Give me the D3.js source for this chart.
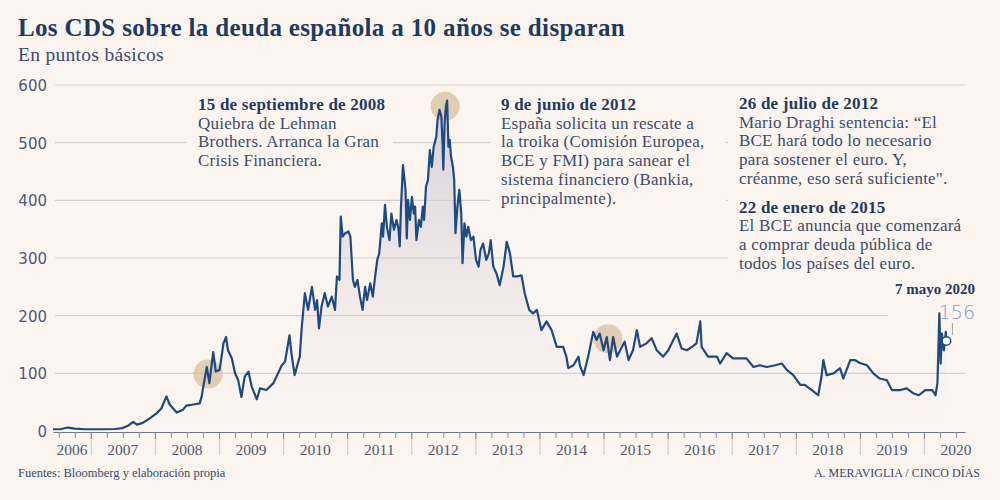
<!DOCTYPE html>
<html><head><meta charset="utf-8">
<script src="https://cdn.jsdelivr.net/npm/d3@7"></script>
<style>html,body{margin:0;padding:0;background:#fcf5ef;}svg{display:block}</style>
</head><body>
<svg id="chart" width="1000" height="500"></svg>
<script>
// ---- data (decimal year, CDS in basis points) ----
const dates = [
2006.41,2006.52,2006.64,2006.75,2006.91,2007.14,2007.38,2007.49,2007.58,2007.66,
2007.72,2007.81,2007.92,2008.03,2008.10,2008.18,2008.23,2008.34,2008.44,2008.49,
2008.60,2008.70,2008.73,2008.75,2008.81,2008.85,2008.91,2008.95,2009.01,2009.07,
2009.11,2009.14,2009.20,2009.25,2009.30,2009.35,2009.40,2009.46,2009.51,2009.59,
2009.64,2009.74,2009.85,2009.98,2010.03,2010.10,2010.13,2010.18,2010.26,2010.29,
2010.34,2010.39,2010.45,2010.50,2010.53,2010.56,2010.60,2010.65,2010.70,2010.76,
2010.81,2010.84,2010.88,2010.90,2010.93,2010.97,2011.02,2011.05,2011.09,2011.12,
2011.16,2011.20,2011.24,2011.28,2011.31,2011.36,2011.40,2011.43,2011.47,2011.50,
2011.54,2011.56,2011.59,2011.62,2011.66,2011.69,2011.73,2011.77,2011.80,2011.82,
2011.84,2011.87,2011.89,2011.91,2011.93,2011.95,2011.98,2012.01,2012.04,2012.06,
2012.08,2012.12,2012.15,2012.18,2012.20,2012.23,2012.26,2012.29,2012.32,2012.35,
2012.39,2012.41,2012.44,2012.47,2012.49,2012.50,2012.52,2012.54,2012.56,2012.58,
2012.60,2012.62,2012.65,2012.67,2012.69,2012.72,2012.75,2012.78,2012.80,2012.83,
2012.86,2012.89,2012.93,2012.97,2013.01,2013.05,2013.08,2013.12,2013.17,2013.21,
2013.24,2013.28,2013.33,2013.38,2013.44,2013.49,2013.54,2013.59,2013.65,2013.72,
2013.77,2013.84,2013.90,2013.96,2014.03,2014.11,2014.19,2014.27,2014.37,2014.42,
2014.45,2014.53,2014.61,2014.63,2014.69,2014.76,2014.84,2014.89,2014.94,2015.00,
2015.05,2015.10,2015.15,2015.21,2015.26,2015.33,2015.39,2015.46,2015.52,2015.57,
2015.67,2015.75,2015.83,2015.93,2016.01,2016.14,2016.22,2016.30,2016.38,2016.45,
2016.51,2016.53,2016.63,2016.77,2016.82,2016.92,2017.02,2017.23,2017.34,2017.44,
2017.55,2017.68,2017.78,2017.86,2017.96,2018.07,2018.14,2018.25,2018.35,2018.40,
2018.43,2018.48,2018.59,2018.69,2018.74,2018.85,2018.92,2019.00,2019.11,2019.21,
2019.31,2019.42,2019.50,2019.63,2019.73,2019.84,2019.92,2020.02,2020.13,2020.18,
2020.21,2020.24,2020.26,2020.28,2020.31,2020.33,2020.34,2020.35];
const cds = [
3,3,6,4,3,3,3.5,5,9,16,
11,14,22,31,39,60,46,32,37,44,
46,48,60,74,111,83,137,103,106,152,
163,140,126,100,88,59,94,103,77,55,
74,71,83,114,120,166,135,97,129,178,
239,210,250,210,227,178,216,239,216,233,
210,268,262,372,337,343,346,337,262,250,
262,233,210,250,227,256,233,262,297,308,
360,337,392,354,331,377,349,366,351,320,
389,461,441,418,334,401,366,406,377,389,
331,366,354,389,366,424,435,487,458,493,
510,539,557,545,493,453,534,562,573,493,
505,476,458,435,343,389,418,377,291,360,
337,354,331,337,297,285,314,325,297,308,
331,285,273,253,285,328,308,268,268,270,
239,210,204,210,175,190,175,146,146,129,
109,114,129,114,97,129,172,158,169,140,
163,123,163,129,140,155,123,140,175,146,
152,161,140,129,140,169,143,140,146,152,
190,146,129,129,117,135,126,126,111,114,
111,114,117,106,97,80,80,71,62,94,
123,97,100,109,91,123,123,118,114,100,
91,88,71,71,74,65,62,71,71,62,
83,204,117,169,140,158,172,156];

const yTicks = [0, 100, 200, 300, 400, 500, 600];
const yearLabels = [2006,2007,2008,2009,2010,2011,2012,2013,2014,2015,2016,2017,2018,2019,2020];
const highlightDates = [2008.83, 2012.53, 2015.07];
const highlightValues = [99, 563, 160];
const lastLabelDate = "7 mayo 2020";
const lastValue = 156;

const annotations = [
  {head: "15 de septiembre de 2008", lines: ["Quiebra de Lehman", "Brothers. Arranca la Gran", "Crisis Financiera."]},
  {head: "9 de junio de 2012", lines: ["España solicita un rescate a", "la troika (Comisión Europea,", "BCE y FMI) para sanear el", "sistema financiero (Bankia,", "principalmente)."]},
  {head: "26 de julio de 2012", lines: ["Mario Draghi sentencia: “El", "BCE hará todo lo necesario", "para sostener el euro. Y,", "créanme, eso será suficiente\"."]},
  {head: "22 de enero de 2015", lines: ["El BCE anuncia que comenzará", "a comprar deuda pública de", "todos los países del euro."]}
];

// ---- layout ----
const BG = "#fcf5ef";
const NAVY = "#1e3a62";
const TEXT = "#3a4c6e";
const SERIF = "'Liberation Serif', 'DejaVu Serif', serif";
const SANS = "'DejaVu Sans', sans-serif";

const svg = d3.select("#chart");
svg.append("rect").attr("width", 1000).attr("height", 500).attr("fill", BG);

const x = d3.scaleLinear().domain([2006.41, 2020.64]).range([53, 965]);
const y = d3.scaleLinear().domain([0, 600]).range([431, 85]);

const data = dates.map((d, i) => ({t: d, v: cds[i]}));

// title
svg.append("text").attr("x", 18).attr("y", 36).text("Los CDS sobre la deuda española a 10 años se disparan")
  .attr("font-family", SERIF).attr("font-weight", "bold").attr("font-size", 25).attr("letter-spacing", 0.35).attr("fill", NAVY);
svg.append("text").attr("x", 18).attr("y", 61).text("En puntos básicos")
  .attr("font-family", SERIF).attr("font-size", 19.5).attr("letter-spacing", 0.3).attr("fill", TEXT);

// area gradient
const defs = svg.append("defs");
const grad = defs.append("linearGradient").attr("id", "areaGrad")
  .attr("gradientUnits", "userSpaceOnUse").attr("x1", 0).attr("x2", 0).attr("y1", y(600)).attr("y2", y(0));
grad.append("stop").attr("offset", "0%").attr("stop-color", "#cfc8d6").attr("stop-opacity", 0.95);
grad.append("stop").attr("offset", "100%").attr("stop-color", "#e9e1e4").attr("stop-opacity", 0);

svg.append("path").datum(data)
  .attr("d", d3.area().x(d => x(d.t)).y0(y(0)).y1(d => y(d.v)))
  .attr("fill", "url(#areaGrad)");

// gridlines
svg.append("g").selectAll("line").data(yTicks.filter(d => d > 0)).join("line")
  .attr("x1", 55).attr("x2", 965).attr("y1", d => y(d)).attr("y2", d => y(d))
  .attr("stroke", "#d6d0cc").attr("stroke-width", 1.2);

// y labels
const yAxis = d3.axisLeft(y).tickValues(yTicks).tickSize(0).tickPadding(0);
const gy = svg.append("g").attr("transform", "translate(47,0)").call(yAxis);
gy.select(".domain").remove();
gy.selectAll("text").attr("font-family", SANS).attr("font-size", 15).attr("fill", "#4b5a78").attr("dy", "0.36em");

// annotation blocks with masking background
const blocks = [
  {x: 198, y: 110, w: 195, ann: [0]},
  {x: 501, y: 110, w: 225, ann: [1]},
  {x: 739, y: 109, w: 228, ann: [2, 3]}
];
const LH = 18.7;
blocks.forEach(b => {
  let nLines = 0;
  b.ann.forEach(a => nLines += 1 + annotations[a].lines.length);
  const extra = (b.ann.length - 1) * 10;
  svg.append("rect").attr("x", b.x - 11).attr("y", b.y - 18).attr("width", b.w + 11)
    .attr("height", nLines * LH + extra + 6).attr("fill", BG);
  let cy = b.y;
  b.ann.forEach((a, k) => {
    const g = svg.append("text").attr("font-family", SERIF).attr("font-size", 17).attr("letter-spacing", 0.22);
    g.append("tspan").attr("x", b.x).attr("y", cy).attr("font-weight", "bold").attr("fill", NAVY).text(annotations[a].head);
    annotations[a].lines.forEach((l, i) => {
      g.append("tspan").attr("x", b.x).attr("y", cy + (i + 1) * LH).attr("fill", TEXT).text(l);
    });
    cy += (annotations[a].lines.length + 1) * LH + 10;
  });
});

// last value label mask
svg.append("rect").attr("x", 888).attr("y", 278).attr("width", 92).attr("height", 46).attr("fill", BG);

// highlight circles
svg.append("g").selectAll("circle").data(highlightDates).join("circle")
  .attr("cx", d => x(d)).attr("cy", (d, i) => y(highlightValues[i])).attr("r", 14.5)
  .attr("fill", "#d8bf9c").attr("fill-opacity", 0.75);

// x axis
const quarters = d3.range(2006.5, 2020.76, 0.25).filter(q => q >= x.domain()[0] && q <= x.domain()[1] && q % 1 !== 0);
const yearStarts = d3.range(2007, 2021);
const axisY = y(0) + 1;
const gMaj = svg.append("g").attr("transform", `translate(0,${axisY})`)
  .call(d3.axisBottom(x).tickValues(yearStarts).tickSize(23).tickFormat(""));
gMaj.select(".domain").remove();
gMaj.selectAll("line").attr("stroke", "#d4cfcc").attr("stroke-width", 1.2);
const gMaj2 = svg.append("g").attr("transform", `translate(0,${axisY})`)
  .call(d3.axisBottom(x).tickValues(yearStarts).tickSize(7).tickFormat(""));
gMaj2.select(".domain").remove();
gMaj2.selectAll("line").attr("stroke", "#7d8496").attr("stroke-width", 1);
const gMin = svg.append("g").attr("transform", `translate(0,${axisY})`)
  .call(d3.axisBottom(x).tickValues(quarters).tickSize(6).tickFormat("").tickSizeOuter(0));
gMin.select(".domain").attr("stroke", "#6d7488").attr("stroke-width", 1.2);
gMin.selectAll("line").attr("stroke", "#8a90a0").attr("stroke-width", 1);

svg.append("g").selectAll("text").data(yearLabels).join("text")
  .attr("x", d => x((Math.max(d, x.domain()[0]) + d + 1) / 2))
  .attr("y", 455).attr("text-anchor", "middle")
  .attr("font-family", SERIF).attr("font-size", 15.5).attr("fill", "#4b5a78").text(d => d);

// line
svg.append("path").datum(data)
  .attr("d", d3.line().x(d => x(d.t)).y(d => y(d.v)))
  .attr("fill", "none").attr("stroke", "#1f4a80").attr("stroke-width", 2.2).attr("stroke-linejoin", "round");

// last point
const last = data[data.length - 1];
svg.append("line").attr("x1", x(last.t) + 6).attr("x2", x(last.t) + 6)
  .attr("y1", y(last.v) - 18).attr("y2", y(last.v) - 6).attr("stroke", "#9aa3b5").attr("stroke-width", 1);
svg.append("circle").attr("cx", x(last.t)).attr("cy", y(last.v)).attr("r", 4.3)
  .attr("fill", "#fff").attr("stroke", "#1f4a80").attr("stroke-width", 1.5);
svg.append("text").attr("x", 975).attr("y", 294).attr("text-anchor", "end")
  .attr("font-family", SERIF).attr("font-weight", "bold").attr("font-size", 15).attr("fill", NAVY).text(lastLabelDate);
svg.append("text").attr("x", 975).attr("y", 319).attr("text-anchor", "end")
  .attr("font-family", SANS).attr("font-size", 19).attr("font-weight", 300).attr("fill", "#7c9dca").text(lastValue);

// footer
svg.append("text").attr("x", 18).attr("y", 477).text("Fuentes: Bloomberg y elaboración propia")
  .attr("font-family", SERIF).attr("font-size", 12.5).attr("fill", "#34476a");
svg.append("text").attr("x", 980).attr("y", 477).attr("text-anchor", "end").text("A. MERAVIGLIA / CINCO DÍAS")
  .attr("font-family", SERIF).attr("font-size", 12).attr("fill", "#34476a");
</script>
</body></html>
